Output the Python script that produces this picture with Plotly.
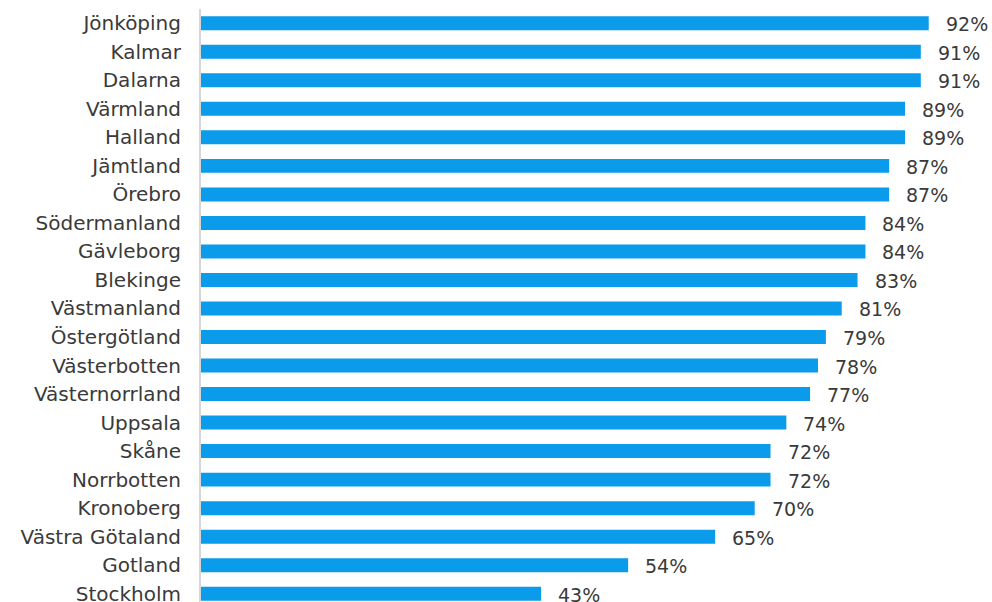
import plotly.graph_objects as go

regions = [
    "Jönköping", "Kalmar", "Dalarna", "Värmland", "Halland", "Jämtland",
    "Örebro", "Södermanland", "Gävleborg", "Blekinge", "Västmanland",
    "Östergötland", "Västerbotten", "Västernorrland", "Uppsala", "Skåne",
    "Norrbotten", "Kronoberg", "Västra Götaland", "Gotland", "Stockholm",
]
shares = [92, 91, 91, 89, 89, 87, 87, 84, 84, 83, 81, 79, 78, 77, 74, 72, 72, 70, 65, 54, 43]

BAR_COLOR = "#0a9bea"
TEXT_COLOR = "#3a3a3a"
FONT = "DejaVu Sans"

# Plot bottom-up so the first region sits at the top
y_order = regions[::-1]
x_vals = shares[::-1]

fig = go.Figure(
    go.Bar(
        x=x_vals,
        y=y_order,
        orientation="h",
        marker=dict(color=BAR_COLOR, line=dict(width=0)),
        hoverinfo="skip",
    )
)

for name, val in zip(regions, shares):
    fig.add_annotation(
        x=val, y=name, text=f"{val}%", showarrow=False,
        xanchor="left", yanchor="middle", xshift=15, yshift=-1,
        font=dict(family=FONT, size=19, color=TEXT_COLOR),
    )

fig.update_layout(
    width=992, height=602,
    margin=dict(l=201, r=0, t=9, b=0, autoexpand=False),
    paper_bgcolor="white", plot_bgcolor="white",
    bargap=0.51,
    showlegend=False,
    font=dict(family=FONT, size=19, color=TEXT_COLOR),
    xaxis=dict(range=[0, 100], visible=False, fixedrange=True, automargin=False),
    yaxis=dict(
        categoryorder="array", categoryarray=y_order,
        range=[-0.29, 20.5],
        automargin=False,
        showline=True, linecolor="#d6d6d6", linewidth=2,
        ticks="", showgrid=False, zeroline=False,
        ticklabelstandoff=14,
        tickfont=dict(family=FONT, size=20, color=TEXT_COLOR),
    ),
)

fig.write_html("out.html")
